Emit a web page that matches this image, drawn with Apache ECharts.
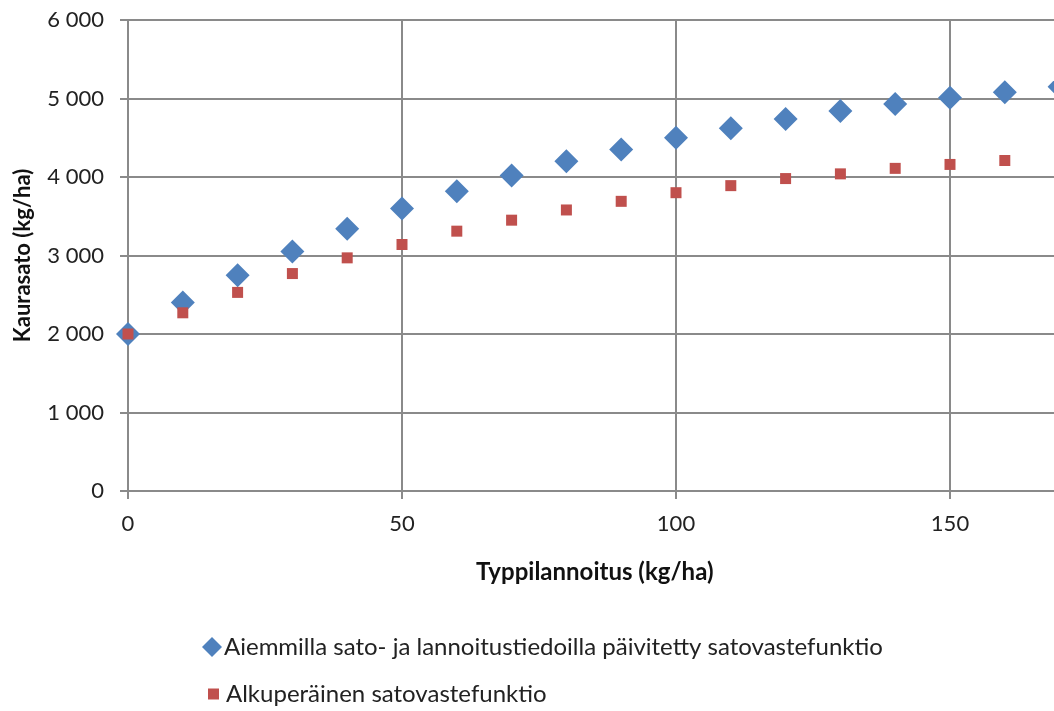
<!DOCTYPE html>
<html>
<head>
<meta charset="utf-8">
<script src="https://cdn.jsdelivr.net/npm/echarts@6/dist/echarts.min.js"></script>
<style>
  html, body { margin: 0; padding: 0; background: #fff; }
  #main { width: 1054px; height: 711px; }
</style>
</head>
<body>
<div id="main"></div>
<script>
// nitrogen rate (kg/ha)
const nRates = [0, 10, 20, 30, 40, 50, 60, 70, 80, 90, 100, 110, 120, 130, 140, 150, 160, 170];
// updated response function
const updatedYield = [2000, 2400, 2750, 3050, 3340, 3600, 3820, 4020, 4200, 4350, 4500, 4620, 4740, 4840, 4930, 5010, 5080, 5150];
// original response function
const originalYield = [2000, 2270, 2530, 2770, 2970, 3140, 3310, 3450, 3580, 3690, 3800, 3890, 3980, 4040, 4110, 4160, 4210, 4280];

const seriesNames = [
  'Aiemmilla sato- ja lannoitustiedoilla päivitetty satovastefunktio',
  'Alkuperäinen satovastefunktio'
];

const font = 'Lato, "Open Sans", sans-serif';
const gridColor = '#8a8a8a';
const legendText = { fontFamily: font, fontSize: 24, color: '#222' };

const chart = echarts.init(document.getElementById('main'));

const option = {
  animation: false,
  backgroundColor: '#fff',
  textStyle: { fontFamily: font },
  title: {
    text: 'Typpilannoitus (kg/ha)',
    left: 471,
    top: 555,
    textStyle: { fontFamily: font, fontSize: 24, fontWeight: 'bold', color: '#111' }
  },
  grid: { left: 128, top: 20, width: 1096, height: 471, containLabel: false, outerBoundsMode: 'none' },
  legend: [
    {
      left: 197,
      top: 630,
      itemWidth: 20,
      itemHeight: 20,
      itemGap: 0,
      textStyle: Object.assign({ padding: [0, 0, 0, -3] }, legendText),
      data: [{ name: seriesNames[0], icon: 'diamond' }]
    },
    {
      left: 203,
      top: 677,
      itemWidth: 11,
      itemHeight: 11,
      itemGap: 0,
      textStyle: Object.assign({ padding: [0, 0, 0, 2] }, legendText),
      data: [{ name: seriesNames[1], icon: 'rect' }]
    }
  ],
  xAxis: {
    type: 'value',
    min: 0,
    max: 200,
    interval: 50,
    axisLine: { show: true, onZero: false, lineStyle: { color: gridColor, width: 2 } },
    axisTick: { show: true, length: 8, lineStyle: { color: gridColor, width: 2 } },
    axisLabel: { fontFamily: font, fontSize: 22, color: '#222', margin: 22 },
    splitLine: { show: true, lineStyle: { color: gridColor, width: 2 } }
  },
  yAxis: {
    type: 'value',
    min: 0,
    max: 6000,
    interval: 1000,
    name: 'Kaurasato (kg/ha)',
    nameLocation: 'middle',
    nameGap: 94,
    nameTextStyle: { fontFamily: font, fontSize: 22, fontWeight: 'bold', color: '#111' },
    axisLine: { show: true, lineStyle: { color: gridColor, width: 2 } },
    axisTick: { show: true, length: 8, lineStyle: { color: gridColor, width: 2 } },
    axisLabel: {
      fontFamily: font, fontSize: 22, color: '#222', margin: 24,
      formatter: v => String(v).replace(/\B(?=(\d{3})+(?!\d))/g, ' ')
    },
    splitLine: { show: true, lineStyle: { color: gridColor, width: 2 } }
  },
  series: [
    {
      name: seriesNames[0],
      type: 'scatter',
      symbol: 'diamond',
      symbolSize: [24, 24],
      itemStyle: { color: '#4F81BD', opacity: 1 },
      data: nRates.map((x, i) => [x, updatedYield[i]]),
      z: 2
    },
    {
      name: seriesNames[1],
      type: 'scatter',
      symbol: 'rect',
      symbolSize: 11,
      itemStyle: { color: '#C0504D', opacity: 1 },
      data: nRates.map((x, i) => [x, originalYield[i]]),
      z: 3
    }
  ]
};

chart.setOption(option);
</script>
</body>
</html>
